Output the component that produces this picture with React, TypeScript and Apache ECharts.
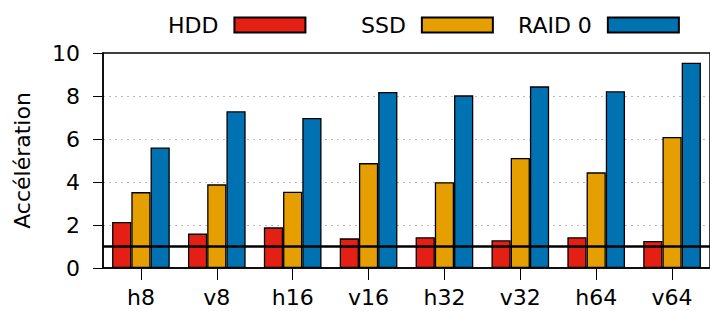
import React, { useEffect, useRef } from "react";
import * as echarts from "echarts";

const categories = ["h8", "v8", "h16", "v16", "h32", "v32", "h64", "v64"];
const hdd = [2.14, 1.6, 1.89, 1.38, 1.43, 1.29, 1.43, 1.26];
const ssd = [3.53, 3.89, 3.55, 4.88, 3.99, 5.12, 4.45, 6.09];
const raid0 = [5.61, 7.29, 6.98, 8.19, 8.03, 8.45, 8.22, 9.55];
const seriesNames = ["HDD", "SSD", "RAID 0"];
const baseline = 1;
const gridValues = [2, 4, 6, 8];

const FONT = "DejaVu Sans";

export default function App() {
  const ref = useRef<HTMLDivElement>(null);
  useEffect(() => {
    if (!ref.current) return;
    const chart = echarts.init(ref.current, null, { renderer: "svg" });
    const colors = ["#e41f14", "#e69f00", "#0072b2"];
    const datas = [hdd, ssd, raid0];
    const legendLefts = [168, 361, 518];
    chart.setOption({
      animation: false,
      textStyle: { fontFamily: FONT },
      legend: seriesNames.map((n, i) => ({
        data: [n],
        left: legendLefts[i],
        top: 14,
        padding: 0,
        align: "right",
        itemWidth: 71,
        itemHeight: 15,
        icon: "rect",
        selectedMode: false,
        textStyle: {
          fontFamily: FONT,
          fontSize: 22,
          color: "#000",
          padding: [0, 11, 0, 0],
        },
      })),
      grid: {
        left: 103,
        top: 53,
        bottom: 43,
        width: 619,
        show: true,
        borderColor: "#000",
        borderWidth: 1.5,
        z: 10,
      },
      xAxis: {
        type: "category",
        data: categories,
        boundaryGap: true,
        axisLine: { show: true, lineStyle: { color: "#000", width: 1.5 } },
        axisTick: { show: true, alignWithLabel: true, length: 12, lineStyle: { color: "#000", width: 1 } },
        axisLabel: { fontFamily: FONT, fontSize: 22, color: "#000", margin: 18 },
        splitLine: { show: false },
      },
      yAxis: {
        type: "value",
        min: 0,
        max: 10,
        interval: 2,
        name: "Accélération",
        nameLocation: "middle",
        nameGap: 70,
        nameRotate: 90,
        nameTextStyle: { fontFamily: FONT, fontSize: 22, color: "#000" },
        axisLine: { show: true, lineStyle: { color: "#000", width: 1.5 } },
        axisTick: { show: true, length: 10, lineStyle: { color: "#000", width: 1 } },
        axisLabel: { fontFamily: FONT, fontSize: 22, color: "#000", margin: 23 },
        splitLine: { show: false },
      },
      series: [
        {
          name: "__grid",
          type: "line",
          data: [],
          silent: true,
          z: 0,
          markLine: {
            silent: true,
            symbol: "none",
            label: { show: false },
            z: 0,
            lineStyle: { color: "#bbbbbb", width: 1, type: [2, 4] },
            data: gridValues.map((v) => ({ yAxis: v })),
          },
        },
        ...seriesNames.map((n, i) => ({
          name: n,
          type: "bar",
          data: datas[i],
          barGap: "0%",
          barCategoryGap: "24%",
          z: 3,
          itemStyle: { color: colors[i], borderColor: "#000", borderWidth: 1.3 },
          markLine:
            i === 2
              ? {
                  silent: true,
                  symbol: "none",
                  label: { show: false },
                  z: 5,
                  lineStyle: { color: "#000", width: 2.5, type: "solid" },
                  data: [{ yAxis: baseline }],
                }
              : undefined,
        })),
      ],
    });
    return () => chart.dispose();
  }, []);
  return <div ref={ref} style={{ width: 710, height: 311, position: "absolute", left: 0, top: 0 }} />;
}
